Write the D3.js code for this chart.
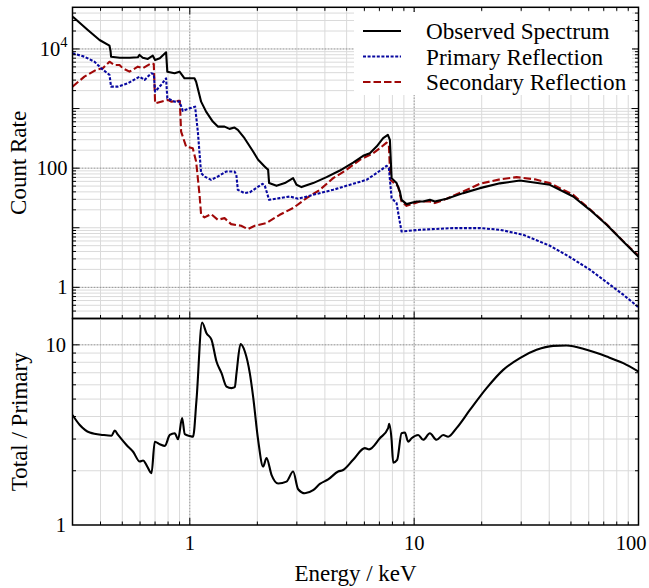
<!DOCTYPE html>
<html><head><meta charset="utf-8">
<script src="https://cdn.jsdelivr.net/npm/d3@7"></script>
<style>
body{margin:0;background:#fff}
svg{display:block}
text{font-family:"Liberation Serif","Times New Roman",serif;fill:#000}
</style>
</head><body>
<svg id="c" width="649" height="588"></svg>
<script>
// ---------- data ----------
const obsE=[0.301,0.351,0.396,0.4385,0.4433,0.4457,0.4875,0.540,0.5865,0.5967,0.6172,0.650,0.684,0.7004,0.735,0.784,0.7938,0.855,0.900,0.947,1.049,1.067,1.123,1.182,1.266,1.333,1.428,1.503,1.582,1.637,1.753,1.915,2.016,2.160,2.234,2.257,2.435,2.652,2.887,2.990,3.147,3.546,4.069,4.665,5.346,5.925,6.346,6.799,7.275,7.635,7.795,7.933,8.349,8.636,8.787,9.250,10.25,10.97,11.75,12.37,13.95,16.54,19.63,24.11,29.6,40.27,51.15,60.72,72.1,85.5,100];
const obsV=[34750,20800,14130,11350,9250,7420,7130,7130,7250,7930,7130,6790,7710,6530,6970,8790,4160,3910,4160,3220,3220,2825,1306,889,604,498,498,456,479,438,318,190,138,106,93.7,56.1,50.5,56.1,68.0,52.5,48.1,56.1,70.6,91.1,124,161,178,230,318,361,298,68.0,56.1,40.6,29.4,24.9,27.5,27.5,29.4,27.5,30.6,38.1,46.2,55.6,61.9,52.5,33.4,20.0,11.2,5.89,3.26];

const priE=[0.300,0.339,0.3759,0.4024,0.4385,0.4457,0.4775,0.529,0.5967,0.6284,0.6724,0.691,0.7004,0.7447,0.784,0.7938,0.855,0.900,0.9307,0.9797,1.056,1.086,1.123,1.163,1.245,1.333,1.451,1.582,1.612,1.637,1.753,1.851,2.109,2.160,2.257,2.518,2.791,3.040,3.546,4.355,5.346,6.135,6.799,7.534,7.714,7.933,8.349,8.519,8.787,10.60,14.92,19.63,24.11,30.62,40.27,49.44,60.72,74.58,85.5,98.1,100];
const priV=[8450,7420,6110,4745,3664,2335,2335,2658,3428,3020,3910,3802,1923,2488,3220,1489,1306,1306,912,986,1076,410,82.5,72.3,63.7,72.3,87.7,87.7,77.2,43.3,38.1,39.3,54.6,50.5,29.4,31.4,33.4,30.6,35.7,43.3,54.6,63.7,82.5,109,101,31.4,25.9,16.5,8.66,9.25,9.87,9.87,9.25,7.62,4.99,3.22,1.98,1.11,0.753,0.492,0.46];

const secE=[0.300,0.339,0.382,0.4095,0.4385,0.4617,0.4860,0.5027,0.5384,0.5865,0.6172,0.6724,0.691,0.7004,0.7447,0.798,0.8254,0.8841,0.9025,0.9146,0.9627,1.031,1.067,1.105,1.123,1.163,1.245,1.333,1.428,1.528,1.693,1.814,1.949,2.198,2.518,2.887,3.313,3.799,4.355,4.995,5.727,6.566,7.032,7.534,7.714,7.834,8.486,8.787,9.250,10.60,11.75,12.37,13.95,16.54,19.63,24.11,28.61,34.52,40.27,51.15,60.72,72.1,85.5,100];
const secV=[2335,3428,4436,4745,6110,5380,5380,4745,4160,5045,4745,5755,5600,1227,1306,1397,1306,1343,1343,410,230,216,129,35.7,16.5,14.9,16.9,13.6,14.5,11.5,10.8,9.51,10.8,12.0,16.5,21.4,31.4,43.3,68.0,93.7,138,178,216,268,245,63.7,49.2,27.5,23.3,27.5,27.5,25.9,30.6,40.6,54.6,64.9,70.6,64.9,56.1,35.7,20.4,11.4,5.93,3.39];

const ratioE=[0.300,0.3233,0.3582,0.4108,0.4477,0.463,0.479,0.5222,0.5589,0.5985,0.6193,0.641,0.675,0.698,0.735,0.774,0.8144,0.857,0.887,0.924,0.950,1.0,1.034,1.071,1.134,1.187,1.249,1.315,1.385,1.457,1.534,1.587,1.615,1.683,1.759,1.851,1.915,2.016,2.122,2.198,2.313,2.476,2.698,2.887,3.040,3.257,3.546,3.799,4.137,4.584,4.826,5.346,6.028,6.30,7.032,7.657,7.735,7.933,8.064,8.40,8.787,9.089,9.402,9.737,10.42,10.97,11.75,12.59,13.47,14.18,15.45,17.72,21.03,24.94,29.6,35.13,41.66,47.8,58.7,72.1,85.5,100];
const ratioV=[4.08,3.59,3.26,3.16,3.13,3.34,3.16,2.78,2.55,2.25,2.28,2.15,1.94,2.90,2.81,2.75,3.16,3.23,2.99,3.92,3.19,3.12,3.09,4.94,13.3,11.6,10.7,8.08,6.96,5.87,5.75,5.82,6.96,10.1,9.18,6.96,5.16,2.97,2.11,2.35,1.90,1.70,1.74,1.98,1.58,1.50,1.56,1.69,1.79,1.98,2.02,2.30,2.67,2.63,3.03,3.45,3.64,2.97,2.22,2.30,3.23,3.26,2.90,3.03,3.16,2.97,3.23,2.97,3.16,3.09,3.45,4.35,5.75,7.26,8.44,9.38,9.87,9.92,9.38,8.61,7.91,7.10];

const xTickValues=[1,10,100];
const xTickLabels=["1","10","100"];
const topTickValues=[1,100,1e4];
const topTickLabels=[["1",""],["100",""],["10","4"]];
const botTickValues=[1,10];
const botTickLabels=["1","10"];
const legendLabels=["Observed Spectrum","Primary Reflection","Secondary Reflection"];
const xTitle="Energy / keV", topTitle="Count Rate", botTitle="Total / Primary";

// ---------- layout ----------
const svg=d3.select("#c");
const L=72.5,R=638.5,T1=7.3,B1=318.5,T2=318.5,B2=525;
const x=d3.scaleLog().domain([0.3,100]).range([L,R]);
const y1=d3.scaleLog().domain([0.3,5e4]).range([B1,T1]);
const y2=d3.scaleLog().domain([1,14]).range([B2,T2]);
const isDecade=v=>Math.abs(Math.log10(v)-Math.round(Math.log10(v)))<1e-9;
const LW=2.1;

const styles={obs:{c:"#000",d:null},pri:{c:"#0808a0",d:"3,1.6"},sec:{c:"#a00808",d:"7.5,3"}};

function grid(g,yS,T,B,darkY){
  x.ticks().forEach(t=>{
    if(t<=0.3001||t>=99.99) return;
    const maj=isDecade(t);
    g.append("line").attr("x1",x(t)).attr("x2",x(t)).attr("y1",T).attr("y2",B)
      .attr("stroke",maj?"#8c8c8c":"#dadada").attr("stroke-width",1)
      .attr("stroke-dasharray",maj?"2,1":null);
  });
  yS.ticks().forEach(t=>{
    const yy=yS(t);
    if(yy<T+0.5||yy>B-0.5) return;
    const maj=darkY.some(v=>Math.abs(v-t)/v<1e-6);
    g.append("line").attr("x1",L).attr("x2",R).attr("y1",yy).attr("y2",yy)
      .attr("stroke",maj?"#8c8c8c":"#dadada").attr("stroke-width",1)
      .attr("stroke-dasharray",maj?"2,1":null);
  });
}
function ticks(g,yS,T,B,topTicks,botTicks){
  const tk=[];
  x.ticks().forEach(t=>{
    const len=isDecade(t)?7:3.5, xx=x(t);
    if(xx<L+0.5||xx>R-0.5) return;
    if(topTicks) tk.push([xx,T,xx,T+len]);
    if(botTicks) tk.push([xx,B,xx,B-len]);
  });
  yS.ticks().forEach(t=>{
    const yy=yS(t);
    if(yy<T+0.5||yy>B-0.5) return;
    const len=isDecade(t)?7:3.5;
    tk.push([L,yy,L+len,yy]); tk.push([R,yy,R-len,yy]);
  });
  g.selectAll(null).data(tk).enter().append("line")
    .attr("x1",d=>d[0]).attr("y1",d=>d[1]).attr("x2",d=>d[2]).attr("y2",d=>d[3])
    .attr("stroke","#000").attr("stroke-width",1);
}
function series(g,E,V,yS,st,curve){
  const line=d3.line().x(d=>x(d[0])).y(d=>yS(d[1])).curve(curve||d3.curveLinear);
  g.append("path").datum(E.map((e,i)=>[e,V[i]])).attr("d",line)
    .attr("fill","none").attr("stroke",st.c).attr("stroke-width",LW)
    .attr("stroke-dasharray",st.d).attr("stroke-linejoin","round");
}

const defs=svg.append("defs");
defs.append("clipPath").attr("id","cp1").append("rect").attr("x",L).attr("y",T1).attr("width",R-L).attr("height",B1-T1);
defs.append("clipPath").attr("id","cp2").append("rect").attr("x",L).attr("y",T2).attr("width",R-L).attr("height",B2-T2);

// top panel
const g1=svg.append("g");
grid(g1,y1,T1,B1,topTickValues);
const c1=g1.append("g").attr("clip-path","url(#cp1)");
series(c1,secE,secV,y1,styles.sec);
series(c1,priE,priV,y1,styles.pri);
series(c1,obsE,obsV,y1,styles.obs);

// legend
const lg=svg.append("g");
lg.append("rect").attr("x",354).attr("y",12).attr("width",278).attr("height",83).attr("fill","#fff");
[styles.obs,styles.pri,styles.sec].forEach((st,i)=>{
  const yy=31+i*25.5;
  lg.append("line").attr("x1",363).attr("x2",401).attr("y1",yy).attr("y2",yy)
    .attr("stroke",st.c).attr("stroke-width",LW).attr("stroke-dasharray",st.d);
  lg.append("text").attr("x",426).attr("y",yy+8).attr("font-size",23.2).text(legendLabels[i]);
});
ticks(g1,y1,T1,B1,true,true);
g1.append("rect").attr("x",L).attr("y",T1).attr("width",R-L).attr("height",B1-T1)
  .attr("fill","none").attr("stroke","#000").attr("stroke-width",1.5);

// bottom panel
const g2=svg.append("g");
grid(g2,y2,T2,B2,[10]);
const c2=g2.append("g").attr("clip-path","url(#cp2)");
series(c2,ratioE,ratioV,y2,styles.obs,d3.curveMonotoneX);
ticks(g2,y2,T2,B2,false,true);
g2.append("rect").attr("x",L).attr("y",T2).attr("width",R-L).attr("height",B2-T2)
  .attr("fill","none").attr("stroke","#000").attr("stroke-width",1.5);

// tick labels
const fs=20.5;
xTickValues.forEach((v,i)=>{
  svg.append("text").attr("x",Math.min(x(v),631)).attr("y",550).attr("text-anchor","middle")
    .attr("font-size",fs).text(xTickLabels[i]);
});
topTickValues.forEach((v,i)=>{
  const t=svg.append("text").attr("x",67.5).attr("y",y1(v)+7).attr("text-anchor","end").attr("font-size",fs);
  t.append("tspan").text(topTickLabels[i][0]);
  if(topTickLabels[i][1]) t.append("tspan").attr("font-size",14.5).attr("dy",-9).text(topTickLabels[i][1]);
});
botTickValues.forEach((v,i)=>{
  svg.append("text").attr("x",66).attr("y",Math.min(y2(v)+7,532)).attr("text-anchor","end")
    .attr("font-size",fs).text(botTickLabels[i]);
});

// titles
svg.append("text").attr("x",(L+R)/2).attr("y",581).attr("text-anchor","middle").attr("font-size",23).text(xTitle);
svg.append("text").attr("transform",`translate(25.5,${(T1+B1)/2}) rotate(-90)`).attr("text-anchor","middle").attr("font-size",23).text(topTitle);
svg.append("text").attr("transform",`translate(26.5,${(T2+B2)/2}) rotate(-90)`).attr("text-anchor","middle").attr("font-size",23).text(botTitle);
</script>
</body></html>
